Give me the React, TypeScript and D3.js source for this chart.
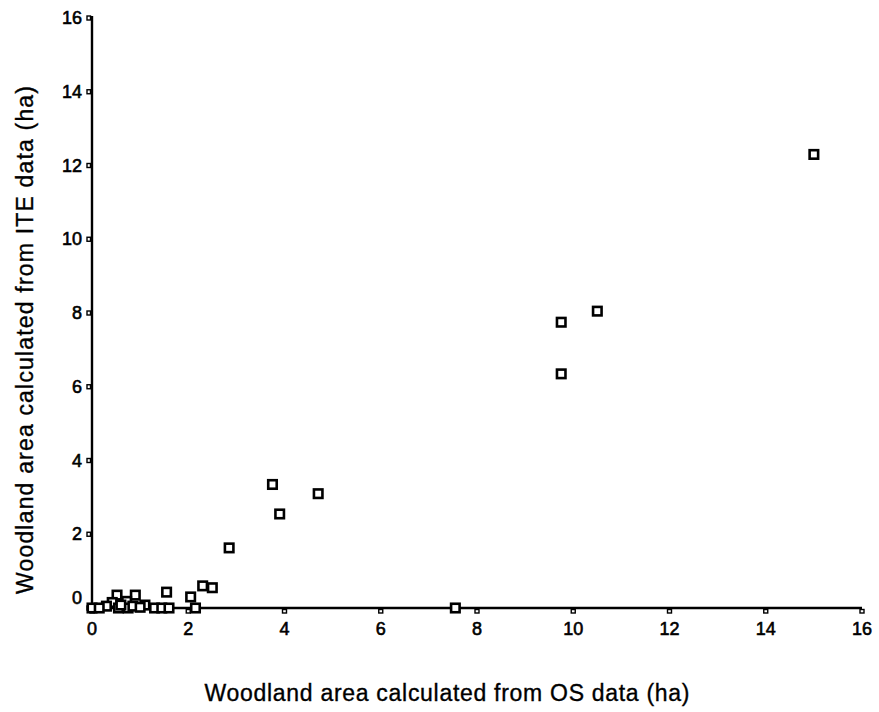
import React from "react";
import * as d3 from "d3";

// Woodland area per sample square: OS-derived (x) vs ITE-derived (y), hectares
const osArea = [
  15.0, 10.5, 9.75, 9.75, 3.75, 4.7, 3.9, 2.85, 2.3, 2.5, 2.05, 1.55, 2.15, 7.55,
  0.52, 0.9, 0.72, 0.42, 0.3, 1.1, 1.3, 1.45, 1.6, 0.0, 0.15, 0.55, 0.75, 0.85, 1.0, 0.6,
];
const iteArea = [
  12.3, 8.05, 7.75, 6.35, 3.35, 3.1, 2.55, 1.63, 0.6, 0.55, 0.3, 0.43, 0.0, 0.0,
  0.35, 0.35, 0.18, 0.15, 0.05, 0.08, 0.0, 0.0, 0.0, 0.0, 0.0, 0.0, 0.0, 0.05, 0.02, 0.08,
];
const xTicks = [0, 2, 4, 6, 8, 10, 12, 14, 16];
const yTicks = [0, 2, 4, 6, 8, 10, 12, 14, 16];
const xTitle = "Woodland area calculated from OS data (ha)";
const yTitle = "Woodland area calculated from ITE data (ha)";

const W = 879;
const H = 712;
const FONT = "'Liberation Sans', Arial, sans-serif";

export default function App() {
  const x = d3.scaleLinear().domain([0, 16]).range([92, 862]);
  const y = d3.scaleLinear().domain([0, 16]).range([608, 18]);
  const pts = osArea.map((v, i) => [v, iteArea[i]] as [number, number]);
  const s = 8.5;

  return (
    <svg
      width={W}
      height={H}
      style={{ position: "absolute", left: 0, top: 0, background: "#fff" }}
      fontFamily={FONT}
    >
      <rect width={W} height={H} fill="#fff" />
      {/* axes */}
      <line x1={x(0)} x2={x(0)} y1={y(16) - 2} y2={y(0)} stroke="#000" strokeWidth={2.4} />
      <line x1={x(0)} x2={x(16)} y1={y(0)} y2={y(0)} stroke="#000" strokeWidth={2.4} />
      {/* y ticks */}
      {yTicks.map((t) => (
        <g key={"y" + t}>
          <rect x={x(0) - 5} y={y(t) - 2} width={3.5} height={4} fill="#fff" stroke="#000" strokeWidth={1.4} />
          <text
            x={x(0) - 10}
            y={y(t) - (t === 0 ? 10 : 0)}
            textAnchor="end"
            dominantBaseline="central"
            fontSize={18}
            fill="#000"
            stroke="#000"
            strokeWidth={0.6}
          >
            {t}
          </text>
        </g>
      ))}
      {/* x ticks */}
      {xTicks.map((t) => (
        <g key={"x" + t}>
          <rect x={x(t) - 2} y={y(0) + 1.5} width={4} height={3.5} fill="#fff" stroke="#000" strokeWidth={1.4} />
          <text
            x={x(t)}
            y={y(0) + 21}
            textAnchor="middle"
            dominantBaseline="central"
            fontSize={18}
            fill="#000"
            stroke="#000"
            strokeWidth={0.6}
          >
            {t}
          </text>
        </g>
      ))}
      {/* points */}
      {pts.map(([a, b], i) => (
        <rect
          key={i}
          x={x(a) - s / 2}
          y={y(b) - s / 2}
          width={s}
          height={s}
          fill="#fff"
          stroke="#000"
          strokeWidth={2.6}
        />
      ))}
      {/* titles */}
      <text
        x={447}
        y={693}
        textAnchor="middle"
        dominantBaseline="central"
        fontSize={23}
        textLength={485}
        lengthAdjust="spacing"
        fill="#000"
        stroke="#000"
        strokeWidth={0.35}
      >
        {xTitle}
      </text>
      <text
        transform={`translate(25,${340}) rotate(-90)`}
        textAnchor="middle"
        dominantBaseline="central"
        fontSize={23}
        textLength={508}
        lengthAdjust="spacing"
        fill="#000"
        stroke="#000"
        strokeWidth={0.35}
      >
        {yTitle}
      </text>
    </svg>
  );
}
